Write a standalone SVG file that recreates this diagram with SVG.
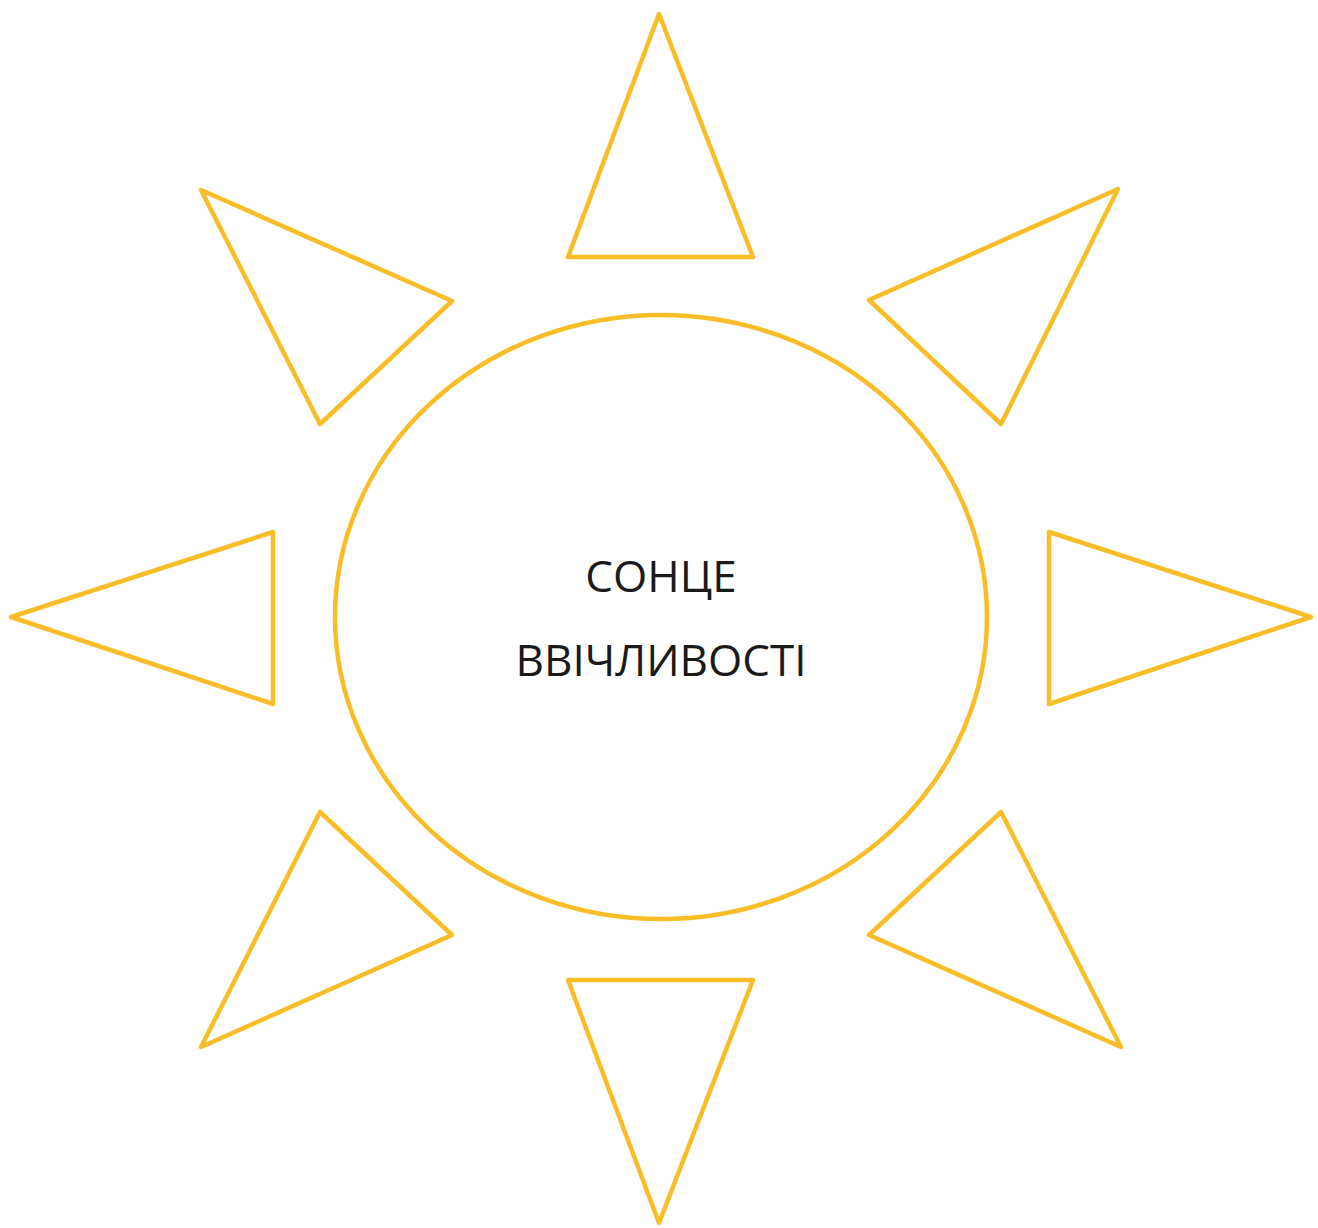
<svg xmlns="http://www.w3.org/2000/svg" width="1318" height="1228" viewBox="0 0 1318 1228">
<style>
.ray{fill:none;stroke:#F9BE27;stroke-width:4.5;stroke-linejoin:round}
.lbl{font-family:"Open Sans","Noto Sans",sans-serif;font-size:44px;fill:#1a1a1a;text-anchor:middle}
</style>
<rect width="1318" height="1228" fill="#ffffff"/>
<g id="sun">
<ellipse class="ray" cx="661" cy="617" rx="326" ry="302"/>
<text class="lbl" x="661" y="592">СОНЦЕ</text>
<text class="lbl" x="661" y="676">ВВІЧЛИВОСТІ</text>
</g>
<g id="ray-top"><polygon class="ray" points="659,14 753,257 568,257"/></g>
<g id="ray-upper-left"><polygon class="ray" points="201,190 452,301 320,424"/></g>
<g id="ray-upper-right"><polygon class="ray" points="1118,189 869,300 1001,424"/></g>
<g id="ray-left"><polygon class="ray" points="11,617 273,532 273,704"/></g>
<g id="ray-right"><polygon class="ray" points="1311,617 1049,532 1049,704"/></g>
<g id="ray-lower-left"><polygon class="ray" points="320,812 452,935 201,1047"/></g>
<g id="ray-lower-right"><polygon class="ray" points="1001,812 869,935 1121,1047"/></g>
<g id="ray-bottom"><polygon class="ray" points="568,980 753,980 659,1223"/></g>
<g id="connectors"></g>
</svg>
